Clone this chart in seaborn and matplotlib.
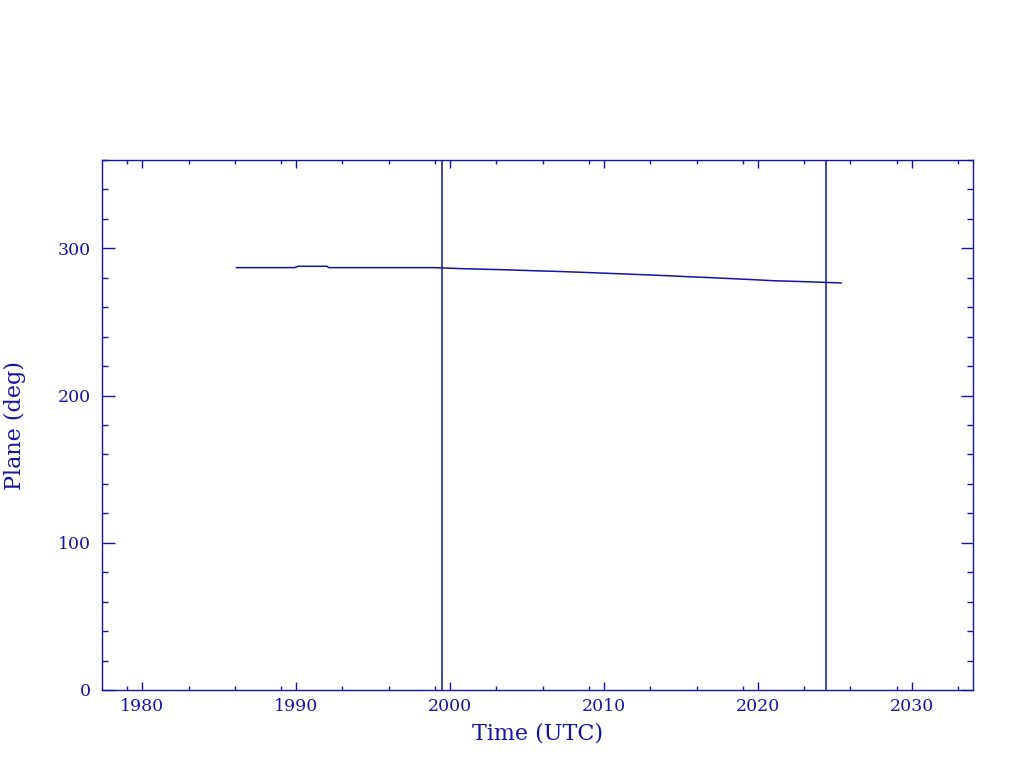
import matplotlib
matplotlib.use("Agg")
import matplotlib.pyplot as plt
from matplotlib.ticker import FixedLocator, MultipleLocator
import seaborn as sns
import pandas as pd

# Data
years = [1986.1, 1989.9, 1990.1, 1992.0, 1992.1, 1999.0, 2000.7, 2003.4, 2005.4,
         2007.3, 2009.1, 2010.8, 2012.5, 2014.1, 2015.5, 2016.9, 2018.3, 2019.7,
         2021.0, 2022.9, 2025.4]
plane = [286.9, 286.9, 287.8, 287.8, 286.9, 286.9, 286.2, 285.5, 284.8,
         284.2, 283.5, 282.8, 282.1, 281.4, 280.7, 280.1, 279.4, 278.7,
         278.0, 277.4, 276.5]
marker_years = [1999.48, 2024.42]
x_major = [1980, 1990, 2000, 2010, 2020, 2030]
y_major = [0, 100, 200, 300]

df = pd.DataFrame({"Time": years, "Plane": plane})

sns.set_style("white")
plt.rcParams['font.family'] = ['DejaVu Serif', 'DejaVu Sans']
C = '#1414A0'

fig = plt.figure(figsize=(10.24, 7.68), dpi=100)
ax = fig.add_axes([102/1024, 78/768, 871/1024, 530/768])

sns.lineplot(data=df, x="Time", y="Plane", ax=ax, color=C, linewidth=1.1,
             estimator=None, sort=False)
for m in marker_years:
    ax.axvline(m, color=C, linewidth=1.1)

ax.set_xlim(1977.38, 2033.96)
ax.set_ylim(0, 360)

ax.xaxis.set_major_locator(FixedLocator(x_major))
minors = [d + k for d in range(1970, 2040, 10) for k in (3, 6, 9)]
ax.xaxis.set_minor_locator(FixedLocator(minors))
ax.yaxis.set_major_locator(FixedLocator(y_major))
ax.yaxis.set_minor_locator(MultipleLocator(20))

ax.tick_params(axis='both', which='both', direction='in', top=True, right=True,
               bottom=True, left=True, colors=C, labelcolor=C, width=1.0)
ax.tick_params(axis='x', which='major', length=6, labelsize=12.5, pad=6)
ax.tick_params(axis='x', which='minor', length=3)
ax.tick_params(axis='y', which='major', length=9, labelsize=12.5, pad=8)
ax.tick_params(axis='y', which='minor', length=4.5)

for s in ax.spines.values():
    s.set_color(C)
    s.set_linewidth(1.0)

ax.set_xlabel("Time (UTC)", color=C, fontsize=16, labelpad=5)
ax.set_ylabel("Plane (deg)", color=C, fontsize=16, labelpad=23)

fig.savefig("out.png", dpi=100, facecolor='white')
